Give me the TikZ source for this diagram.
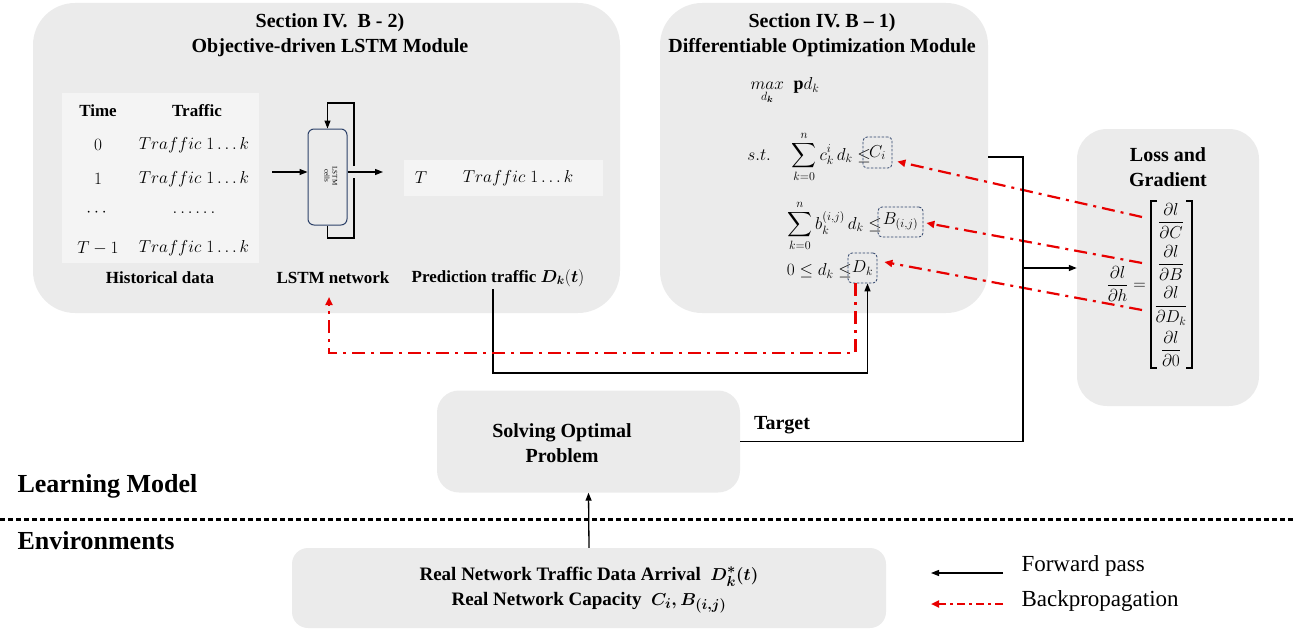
\documentclass[tikz,border=0pt]{standalone}
\usepackage{amsmath}
\usepackage{fontspec}
\setmainfont{Liberation Serif}
\usetikzlibrary{arrows.meta}
\definecolor{panelgray}{RGB}{235,235,235}
\definecolor{tablegray}{RGB}{244,244,244}
\definecolor{bpred}{RGB}{232,0,0}
\definecolor{boxblue}{RGB}{45,65,105}
\newcommand{\mytitlefont}{\fontsize{20}{25}\selectfont\bfseries}
\newcommand{\mylabelfont}{\fontsize{17}{21}\selectfont\bfseries}
\newcommand{\mymathfont}{\fontsize{18}{22}\selectfont}
\begin{document}
\begin{tikzpicture}[x=1pt,y=-1pt,
  panel/.style={fill=panelgray, draw=none, rounded corners=#1, inner sep=0pt},
  panel/.default=42pt,
  ttl/.style={font=\mytitlefont, align=center},
  lbl/.style={font=\mylabelfont, align=center},
  eq/.style={font=\mymathfont, inner sep=0pt},
  dbox/.style={draw=boxblue, line width=0.8pt, dash pattern=on 2.5pt off 1.5pt, rounded corners=4pt, inner sep=0pt, font=\mymathfont},
  fline/.style={draw=black, line width=1.3pt},
  fwd/.style={draw=black, line width=1.3pt, -{Triangle[length=8pt,width=6pt]}},
  bwd/.style={draw=bpred, line width=2.2pt, dash pattern=on 13pt off 6pt on 3pt off 6pt, -{Triangle[length=8pt,width=7pt]}},
  brk/.style={draw=black, line width=1.1pt},
]
\useasboundingbox (0,0) rectangle (1296,634);

% ---------- panels ----------
\node[panel, minimum width=587pt, minimum height=310pt] (lpanel) at (326.5,158) {};
\node[panel, minimum width=328pt, minimum height=310pt] (mpanel) at (824,158) {};
\node[panel=30pt, minimum width=182pt, minimum height=277pt] (losspanel) at (1168,267.5) {};
\node[panel=22pt, minimum width=303pt, minimum height=102pt] (solve) at (588.5,441.5) {};
\node[panel=16pt, minimum width=594pt, minimum height=80pt] (env) at (589,588) {};

% ---------- titles ----------
\node[ttl] (ltitle) at (330,35) {Section IV.\ \ B - 2)\\Objective-driven LSTM Module};
\node[ttl] (mtitle) at (822,35) {Section IV. B -- 1)\\Differentiable Optimization Module};
\node[ttl] (losstitle) at (1168,167) {Loss and\\Gradient};

% ---------- historical data table ----------
\node[fill=tablegray, minimum width=197pt, minimum height=170pt, inner sep=0pt] (tbl) at (160.5,178) {};
\node[lbl] (htime) at (98,111) {Time};
\node[lbl] (htraf) at (197,111) {Traffic};
\node[eq] (t0) at (98,145) {$0$};
\node[eq] (r0) at (194,145) {$Traffic\;1\ldots k$};
\node[eq] (t1) at (98,179) {$1$};
\node[eq] (r1) at (194,179) {$Traffic\;1\ldots k$};
\node[eq] (t2) at (98,213) {$\cdots$};
\node[eq] (r2) at (194,213) {$\ldots\ldots$};
\node[eq] (t3) at (98,248) {$T-1$};
\node[eq] (r3) at (194,248) {$Traffic\;1\ldots k$};
\node[lbl] (hist) at (160,278) {Historical data};

% ---------- LSTM ----------
\node[draw=boxblue, line width=1pt, rounded corners=6pt, fill=panelgray, minimum width=39pt, minimum height=96pt, inner sep=0pt] (lstm) at (327.5,177) {};
\node[rotate=-90, font=\fontsize{7}{8}\selectfont, align=center] (lstmtxt) at (331,176) {LSTM\\cells};
\coordinate (inA) at (272,172);
\coordinate (outA) at (383,172);
\draw[fwd] (inA) -- (inA -| lstm.west);
\draw[fwd] (outA -| lstm.east) -- (outA);
\coordinate (lpB) at (327.5,238);
\coordinate (lpBR) at (354,238);
\coordinate (lpG1) at (354,178);
\coordinate (lpG2) at (354,166);
\coordinate (lpTR) at (354,103);
\coordinate (lpT) at (327.5,103);
\draw[fline, line width=1.1pt] (lstm.south) -- (lpB) -- (lpBR) -- (lpG1);
\draw[fwd, line width=1.1pt] (lpG2) -- (lpTR) -- (lpT) -- (lstm.north);
\node[lbl] (lstmnet) at (333,278) {LSTM network};

% ---------- prediction ----------
\node[fill=tablegray, minimum width=199pt, minimum height=36pt, inner sep=0pt] (predbg) at (503.5,178) {};
\node[eq] (predT) at (421,178) {$T$};
\node[eq] (predR) at (518,178) {$Traffic\;1\ldots k$};
\node[lbl] (pred) at (498,278) {Prediction traffic $\boldsymbol{D_k}(\boldsymbol{t})$};

% ---------- optimization ----------
\node[eq] (maxeq) at (785,91) {$\underset{d_{\boldsymbol{k}}}{max}\;\;\mathbf{p}d_k$};
\node[eq, anchor=east] (eq1) at (871,157) {$s.t.\quad\displaystyle\sum_{k=0}^{n} c_k^i\, d_k \le$};
\node[dbox, minimum width=29pt, minimum height=31pt] (Ci) at (877.5,152.5) {$C_i$};
\node[eq, anchor=east] (eq2) at (882,226) {$\displaystyle\sum_{k=0}^{n} b_k^{(i,j)}\, d_k \le$};
\node[dbox, minimum width=45pt, minimum height=30pt] (Bij) at (900.5,222) {$B_{(i,j)}$};
\node[eq, anchor=east] (eq3) at (852,271) {$0 \le d_k \le$};
\node[dbox, minimum width=29pt, minimum height=30pt] (Dk) at (862.5,268) {$D_k$};

% ---------- loss and gradient ----------
\node[eq, anchor=east] (dldh) at (1146,284) {$\dfrac{\partial l}{\partial h}=$};
\node[eq] (fC) at (1171,221) {$\dfrac{\partial l}{\partial C}$};
\node[eq] (fB) at (1171,263) {$\dfrac{\partial l}{\partial B}$};
\node[eq] (fD) at (1171,306) {$\dfrac{\partial l}{\partial D_k}$};
\node[eq] (f0) at (1171,349) {$\dfrac{\partial l}{\partial 0}$};
\coordinate (bl1) at (1157,201);
\coordinate (bl2) at (1151,201);
\coordinate (bl3) at (1151,368);
\coordinate (bl4) at (1157,368);
\coordinate (br1) at (1186,201);
\coordinate (br2) at (1192,201);
\coordinate (br3) at (1192,368);
\coordinate (br4) at (1186,368);
\draw[brk] (bl1) -- (bl2) -- (bl3) -- (bl4);
\draw[brk] (br1) -- (br2) -- (br3) -- (br4);
\coordinate (gC) at (1142,217);
\coordinate (gB) at (1142,263);
\coordinate (gD) at (1142,310);
\draw[bwd] (gC) -- ([xshift=5pt,yshift=-9pt]Ci.east);
\draw[bwd] (gB) -- ([xshift=3pt,yshift=-1pt]Bij.east);
\draw[bwd] (gD) -- ([xshift=7pt,yshift=6pt]Dk.east);

% ---------- forward connectors ----------
\coordinate (pb) at (493,289);
\coordinate (pc) at (493,373);
\draw[fwd] (pb) -- (pc) -| ([xshift=5pt]Dk.south);
\coordinate (rb) at (329,353);
\coordinate (rtip) at (329,297);
\draw[bwd] ([xshift=-7pt]Dk.south) |- (rb) -- (rtip);

\coordinate (mout) at (988,157);
\coordinate (jtop) at (1023,157);
\coordinate (jn) at (1023,268);
\draw[fline] (solve.east) -| (jtop) -- (mout);
\draw[fwd] (jn) -- (jn -| losspanel.west);
\node[lbl, font=\mytitlefont] (target) at (782,425) {Target};

\node[ttl] (solvetxt) at (562,443) {Solving Optimal\\Problem};
\draw[fwd] (env.north) -- (solve.south);

% ---------- environment ----------
\node[font=\fontsize{19}{25}\selectfont\bfseries, align=center] (envtxt) at (589,590) {Real Network Traffic Data Arrival\ \ $\boldsymbol{D_k^*(t)}$\\Real Network Capacity\ \ $\boldsymbol{C_i, B_{(i,j)}}$};

% ---------- layers ----------
\node[font=\fontsize{26}{30}\selectfont\bfseries, anchor=west] (learn) at (14,486) {Learning Model};
\coordinate (dl) at (0,519);
\coordinate (dr) at (1296,519);
\draw[line width=3pt, dash pattern=on 5pt off 3pt] (dl) -- (dr);
\node[font=\fontsize{26}{30}\selectfont\bfseries, anchor=west] (envlbl) at (14,541) {Environments};

% ---------- legend ----------
\coordinate (l1s) at (1003,573);
\coordinate (l1e) at (931,573);
\draw[fwd] (l1s) -- (l1e);
\node[font=\fontsize{23}{26}\selectfont, anchor=west] (fp) at (1018,566) {Forward pass};
\coordinate (l2s) at (1003,604);
\coordinate (l2e) at (931,604);
\draw[bwd, dash pattern=on 8pt off 4pt on 3pt off 4pt] (l2s) -- (l2e);
\node[font=\fontsize{23}{26}\selectfont, anchor=west] (bp) at (1018,601) {Backpropagation};
\end{tikzpicture}
\end{document}
